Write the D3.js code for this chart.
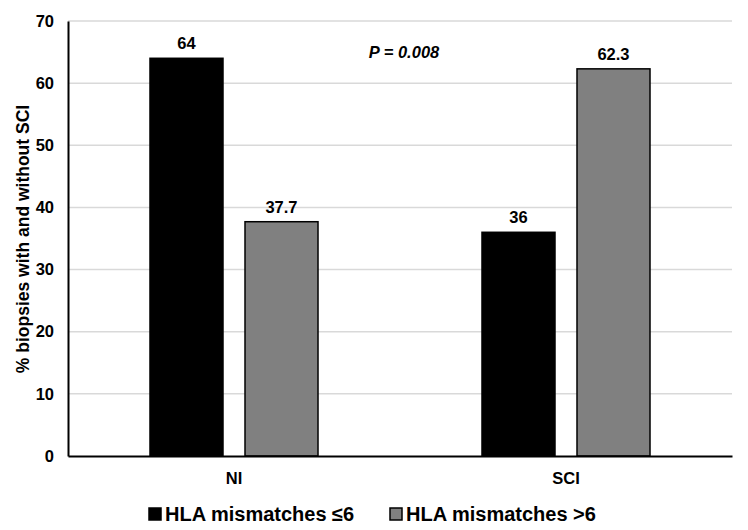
<!DOCTYPE html>
<html>
<head>
<meta charset="utf-8">
<script src="https://cdn.jsdelivr.net/npm/d3@7"></script>
<style>
  body { margin: 0; background: #fff; }
  text { font-family: "Liberation Sans", Arial, sans-serif; font-weight: bold; fill: #000; }
</style>
</head>
<body>
<div id="chart"></div>
<script>
// data
var categories = ["NI", "SCI"];
var series = ["HLA mismatches \u22646", "HLA mismatches >6"];
var lowMismatch = [64, 36];
var highMismatch = [37.7, 62.3];
var valueLabels = [["64", "37.7"], ["36", "62.3"]];
var yTicks = [0, 10, 20, 30, 40, 50, 60, 70];
var colors = ["#000000", "#808080"];

var width = 748, height = 530;
var margin = {top: 21, right: 16, bottom: 74, left: 68};

var svg = d3.select("#chart").append("svg")
    .attr("width", width)
    .attr("height", height);

var x0 = d3.scaleBand()
    .domain(categories)
    .range([margin.left, width - margin.right])
    .paddingInner(0).paddingOuter(0);

var x1 = d3.scaleBand()
    .domain(series)
    .range([0, x0.bandwidth()])
    .paddingInner(0.2316)
    .paddingOuter(0.863);

var y = d3.scaleLinear()
    .domain([0, 70])
    .range([height - margin.bottom, margin.top]);

// gridlines
svg.append("g").selectAll("line").data(yTicks.filter(function(d){ return d > 0; }))
    .enter().append("line")
    .attr("x1", margin.left)
    .attr("x2", width - margin.right)
    .attr("y1", function(d){ return y(d); })
    .attr("y2", function(d){ return y(d); })
    .attr("stroke", "#d9d9d9")
    .attr("stroke-width", 1.5);

// y axis
var yAxis = svg.append("g")
    .attr("transform", "translate(" + margin.left + ",0)")
    .call(d3.axisLeft(y).tickValues(yTicks).tickSize(0).tickPadding(14));
yAxis.select(".domain").attr("stroke", "#000").attr("stroke-width", 2);
yAxis.selectAll("text").style("font-size", "16.5px").style("font-family", "Liberation Sans, Arial, sans-serif").style("font-weight", "bold");

// bars
var rows = categories.map(function(c, i){
    return [
        {cat: c, s: series[0], v: lowMismatch[i], label: valueLabels[i][0], color: colors[0]},
        {cat: c, s: series[1], v: highMismatch[i], label: valueLabels[i][1], color: colors[1]}
    ];
});
var flat = [].concat.apply([], rows);

svg.append("g").selectAll("rect").data(flat)
    .enter().append("rect")
    .attr("x", function(d){ return x0(d.cat) + x1(d.s); })
    .attr("y", function(d){ return y(d.v); })
    .attr("width", x1.bandwidth())
    .attr("height", function(d){ return y(0) - y(d.v); })
    .attr("fill", function(d){ return d.color; })
    .attr("stroke", "#000")
    .attr("stroke-width", 1.5);

svg.append("g").selectAll("text").data(flat)
    .enter().append("text")
    .attr("x", function(d){ return x0(d.cat) + x1(d.s) + x1.bandwidth() / 2; })
    .attr("y", function(d){ return y(d.v) - 9; })
    .attr("text-anchor", "middle")
    .style("font-size", "16.5px")
    .text(function(d){ return d.label; });

// x axis
var xAxis = svg.append("g")
    .attr("transform", "translate(0," + y(0) + ")")
    .call(d3.axisBottom(x0).tickSize(0).tickPadding(16));
xAxis.select(".domain").attr("stroke", "#000").attr("stroke-width", 2);
xAxis.selectAll("text").style("font-size", "16.5px").style("font-family", "Liberation Sans, Arial, sans-serif").style("font-weight", "bold");

// y axis title
svg.append("text")
    .attr("transform", "translate(29,239) rotate(-90)")
    .attr("text-anchor", "middle")
    .style("font-size", "17.5px")
    .text("% biopsies with and without SCI");

// p value
svg.append("text")
    .attr("x", 404)
    .attr("y", 58)
    .attr("text-anchor", "middle")
    .style("font-size", "16.5px")
    .style("font-style", "italic")
    .text("P = 0.008");

// legend
var legendX = [149, 390];
var legend = svg.append("g").selectAll("g").data(series)
    .enter().append("g")
    .attr("transform", function(d, i){ return "translate(" + legendX[i] + ",514)"; });
legend.append("rect")
    .attr("x", 0).attr("y", -6)
    .attr("width", 12).attr("height", 12)
    .attr("fill", function(d, i){ return colors[i]; })
    .attr("stroke", "#000")
    .attr("stroke-width", 1.5);
legend.append("text")
    .attr("x", 16)
    .attr("dy", "0.35em")
    .style("font-size", "20px")
    .text(function(d){ return d; });
</script>
</body>
</html>
